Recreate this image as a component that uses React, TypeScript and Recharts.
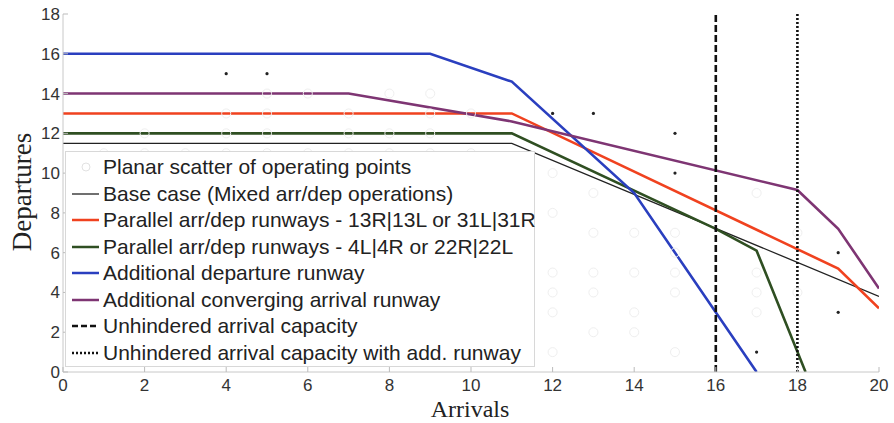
import React from "react"
import { ComposedChart, Line, Scatter, XAxis, YAxis, ReferenceLine, Label } from "recharts"

// capacity curves (arrivals x, departures y)
const baseCase = [
  { x: 0, y: 11.5 },
  { x: 11, y: 11.5 },
  { x: 20, y: 3.8 },
]
const parallel13 = [
  { x: 0, y: 13 },
  { x: 11, y: 13 },
  { x: 19, y: 5.2 },
  { x: 20, y: 3.2 },
]
const parallel4 = [
  { x: 0, y: 12 },
  { x: 11, y: 12 },
  { x: 16, y: 7.2 },
  { x: 17, y: 6.1 },
  { x: 18.2, y: 0 },
]
const addDeparture = [
  { x: 0, y: 16 },
  { x: 9, y: 16 },
  { x: 11, y: 14.6 },
  { x: 14, y: 9 },
  { x: 17, y: 0 },
]
const addConverging = [
  { x: 0, y: 14 },
  { x: 7, y: 14 },
  { x: 11, y: 12.6 },
  { x: 18, y: 9.15 },
  { x: 19, y: 7.2 },
  { x: 20, y: 4.2 },
]

// operating points (faint circles) and the few dark dots
const scatterFaint = [
  { x: 1, y: 11 }, { x: 2, y: 11 }, { x: 3, y: 11 }, { x: 4, y: 11 }, { x: 5, y: 11 },
  { x: 6, y: 11 }, { x: 7, y: 11 }, { x: 8, y: 11 }, { x: 9, y: 11 }, { x: 10, y: 11 },
  { x: 2, y: 12 }, { x: 4, y: 12 }, { x: 5, y: 12 }, { x: 7, y: 12 }, { x: 8, y: 12 }, { x: 9, y: 12 },
  { x: 4, y: 13 }, { x: 5, y: 13 }, { x: 7, y: 13 }, { x: 9, y: 13 }, { x: 10, y: 13 },
  { x: 5, y: 14 }, { x: 6, y: 14 }, { x: 8, y: 14 }, { x: 9, y: 14 },
  { x: 12, y: 10 }, { x: 12, y: 8 }, { x: 12, y: 5 }, { x: 12, y: 4 }, { x: 12, y: 3 }, { x: 12, y: 1 },
  { x: 13, y: 9 }, { x: 13, y: 7 }, { x: 13, y: 5 }, { x: 13, y: 4 }, { x: 13, y: 2 },
  { x: 14, y: 7 }, { x: 14, y: 5 }, { x: 14, y: 3 }, { x: 14, y: 2 },
  { x: 15, y: 7 }, { x: 15, y: 6 }, { x: 15, y: 5 }, { x: 15, y: 4 }, { x: 15, y: 1 },
  { x: 17, y: 9 }, { x: 17, y: 5 }, { x: 17, y: 4 }, { x: 17, y: 3 },
  { x: 18, y: 7 }, { x: 18, y: 4 },
]
const scatterDark = [
  { x: 4, y: 15 }, { x: 5, y: 15 }, { x: 12, y: 13 }, { x: 13, y: 13 },
  { x: 15, y: 12 }, { x: 15, y: 10 }, { x: 19, y: 6 }, { x: 19, y: 3 }, { x: 17, y: 1 },
]

const xTicks = [0, 2, 4, 6, 8, 10, 12, 14, 16, 18, 20]
const yTicks = [0, 2, 4, 6, 8, 10, 12, 14, 16, 18]

const legendItems = [
  { label: "Planar scatter of operating points", color: "#e2e2e2", kind: "circle" },
  { label: "Base case (Mixed arr/dep operations)", color: "#222", kind: "thin" },
  { label: "Parallel arr/dep runways - 13R|13L or 31L|31R", color: "#f0421f", kind: "line" },
  { label: "Parallel arr/dep runways - 4L|4R or 22R|22L", color: "#2f4f22", kind: "line" },
  { label: "Additional departure runway", color: "#2a3fbf", kind: "line" },
  { label: "Additional converging arrival runway", color: "#7e3573", kind: "line" },
  { label: "Unhindered arrival capacity", color: "#111", kind: "dash" },
  { label: "Unhindered arrival capacity with add. runway", color: "#111", kind: "dot" },
]

const sans = "'Liberation Sans', Arial, sans-serif"
const serif = "'Liberation Serif', 'Times New Roman', serif"

const XTick = (props: any) => {
  const { x, y, payload } = props
  return (
    <g>
      <line x1={x} x2={x} y1={y} y2={y - 5} stroke="#bbb" />
      <text x={x} y={y + 19} textAnchor="middle" fontSize={17} fill="#333" fontFamily={sans}>
        {payload.value}
      </text>
    </g>
  )
}

const YTick = (props: any) => {
  const { x, y, payload } = props
  return (
    <g>
      <line x1={x} x2={x + 5} y1={y} y2={y} stroke="#bbb" />
      <text x={x - 3} y={y + 6} textAnchor="end" fontSize={17} fill="#333" fontFamily={sans}>
        {payload.value}
      </text>
    </g>
  )
}

function LegendBox() {
  return (
    <div
      style={{
        position: "absolute",
        left: 65,
        top: 151,
        width: 470,
        height: 216,
        background: "#fff",
        border: "1px solid #d8d8d8",
        boxSizing: "border-box",
        padding: "2px 0 0 6px",
        fontFamily: sans,
        fontSize: 21,
        color: "#222",
      }}
    >
      {legendItems.map((item) => (
        <div key={item.label} style={{ display: "flex", alignItems: "center", height: 26.5, whiteSpace: "nowrap" }}>
          <svg width={28} height={12} style={{ marginRight: 3, flexShrink: 0 }}>
            {item.kind === "circle" ? (
              <circle cx={14} cy={6} r={4} fill="none" stroke={item.color} />
            ) : (
              <line
                x1={0}
                x2={27}
                y1={6}
                y2={6}
                stroke={item.color}
                strokeWidth={item.kind === "thin" ? 1.3 : 2.5}
                strokeDasharray={item.kind === "dash" ? "6 3" : item.kind === "dot" ? "2 2" : undefined}
              />
            )}
          </svg>
          <span>{item.label}</span>
        </div>
      ))}
    </div>
  )
}

export default function App() {
  return (
    <div style={{ position: "absolute", left: 0, top: 0, width: 894, height: 423, background: "#fff" }}>
      <ComposedChart width={894} height={423} margin={{ top: 14, right: 15, bottom: 21, left: 0 }}>
        <XAxis
          dataKey="x"
          type="number"
          domain={[0, 20]}
          ticks={xTicks}
          height={30}
          tickSize={0}
          tickMargin={0}
          tick={<XTick />}
          stroke="#c8c8c8"
          allowDataOverflow
        >
          <Label
            content={() => (
              <text x={470} y={417} textAnchor="middle" fontSize={24} fill="#222" fontFamily={serif}>
                Arrivals
              </text>
            )}
          />
        </XAxis>
        <YAxis
          dataKey="y"
          type="number"
          domain={[0, 18]}
          ticks={yTicks}
          width={63}
          tickSize={0}
          tickMargin={0}
          tick={<YTick />}
          stroke="#c8c8c8"
          allowDataOverflow
        >
          <Label
            content={() => (
              <text
                x={31}
                y={192}
                transform="rotate(-90 31 192)"
                textAnchor="middle"
                fontSize={27}
                fill="#222"
                fontFamily={serif}
              >
                Departures
              </text>
            )}
          />
        </YAxis>
        <Scatter data={scatterFaint} fill="none" stroke="#efefef" shape="circle" isAnimationActive={false} />
        <Scatter
          data={scatterDark}
          isAnimationActive={false}
          shape={(p: any) => <circle cx={p.cx} cy={p.cy} r={1.6} fill="#222" />}
        />
        <Line data={baseCase} dataKey="y" stroke="#222" strokeWidth={1.3} dot={false} isAnimationActive={false} />
        <Line data={parallel4} dataKey="y" stroke="#2f4f22" strokeWidth={2.6} dot={false} isAnimationActive={false} />
        <Line data={parallel13} dataKey="y" stroke="#f0421f" strokeWidth={2.6} dot={false} isAnimationActive={false} />
        <Line data={addDeparture} dataKey="y" stroke="#2a3fbf" strokeWidth={2.6} dot={false} isAnimationActive={false} />
        <Line data={addConverging} dataKey="y" stroke="#7e3573" strokeWidth={2.6} dot={false} isAnimationActive={false} />
        <ReferenceLine x={16} stroke="#111" strokeWidth={2.6} strokeDasharray="7 3" />
        <ReferenceLine x={18} stroke="#111" strokeWidth={2.6} strokeDasharray="2 2" />
      </ComposedChart>
      <LegendBox />
    </div>
  )
}
